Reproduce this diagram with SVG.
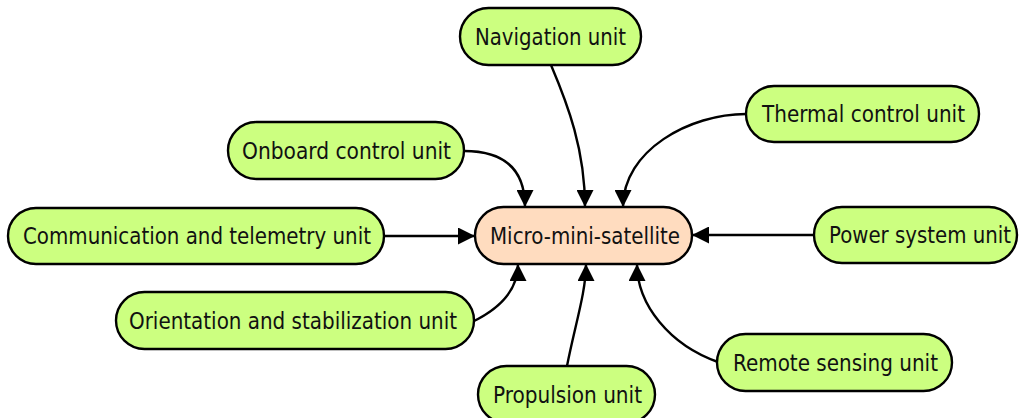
<svg xmlns="http://www.w3.org/2000/svg" width="1019" height="418" viewBox="0 0 1019 418">
<style>
.n rect{fill:#ccff80;stroke:#000;stroke-width:2.4}
.c rect{fill:#ffdcbf;stroke:#000;stroke-width:2.4}
text{font-family:"DejaVu Sans Condensed","DejaVu Sans","Liberation Sans",sans-serif;font-size:23.5px;fill:#111;text-anchor:middle}
.e path{fill:none;stroke:#000;stroke-width:2.4}
</style>
<defs>
<marker id="ah" viewBox="0 0 17 17" refX="17" refY="8.5" markerWidth="17" markerHeight="17" markerUnits="userSpaceOnUse" orient="auto">
<path d="M0,0 L17,8.5 L0,17 z" fill="#000"/>
</marker>
</defs>
<rect width="1019" height="418" fill="#fff"/>
<g id="edges" class="e">
<path d="M464,151 C505,151 525,170 525,207" marker-end="url(#ah)"/>
<path d="M551,65 C568,105 585,150 585,207" marker-end="url(#ah)"/>
<path d="M746,114 C690,114 623,150 623,207" marker-end="url(#ah)"/>
<path d="M384,236 L475,236" marker-end="url(#ah)"/>
<path d="M814,235 L692,235" marker-end="url(#ah)"/>
<path d="M472,322 C497,310 518,292 518,264" marker-end="url(#ah)"/>
<path d="M567,366 C575,325 586,292 586,264" marker-end="url(#ah)"/>
<path d="M718,362 C670,345 637,305 637,264" marker-end="url(#ah)"/>
</g>
<g id="center" class="c"><rect x="475" y="207" width="217" height="57" rx="28.5"/><text x="585" y="244" textLength="190" lengthAdjust="spacingAndGlyphs">Micro-mini-satellite</text></g>
<g id="navigation" class="n"><rect x="460" y="8" width="181" height="57" rx="28.5"/><text x="550.5" y="45" textLength="151" lengthAdjust="spacingAndGlyphs">Navigation unit</text></g>
<g id="thermal" class="n"><rect x="746" y="86" width="233" height="56" rx="28"/><text x="863.5" y="122" textLength="203" lengthAdjust="spacingAndGlyphs">Thermal control unit</text></g>
<g id="onboard" class="n"><rect x="228" y="122" width="236" height="57" rx="28.5"/><text x="346.5" y="159" textLength="209" lengthAdjust="spacingAndGlyphs">Onboard control unit</text></g>
<g id="communication" class="n"><rect x="8" y="208" width="376" height="56" rx="28"/><text x="197" y="244" textLength="348" lengthAdjust="spacingAndGlyphs">Communication and telemetry unit</text></g>
<g id="power" class="n"><rect x="814" y="207" width="203" height="56" rx="28"/><text x="920" y="243" textLength="182" lengthAdjust="spacingAndGlyphs">Power system unit</text></g>
<g id="orientation" class="n"><rect x="116" y="292" width="358" height="57" rx="28.5"/><text x="293" y="329" textLength="328" lengthAdjust="spacingAndGlyphs">Orientation and stabilization unit</text></g>
<g id="remote" class="n"><rect x="717" y="334" width="235" height="57" rx="28.5"/><text x="835.5" y="371" textLength="205" lengthAdjust="spacingAndGlyphs">Remote sensing unit</text></g>
<g id="propulsion" class="n"><rect x="478" y="366" width="177" height="57" rx="28.5"/><text x="567.5" y="403" textLength="149" lengthAdjust="spacingAndGlyphs">Propulsion unit</text></g>
</svg>
